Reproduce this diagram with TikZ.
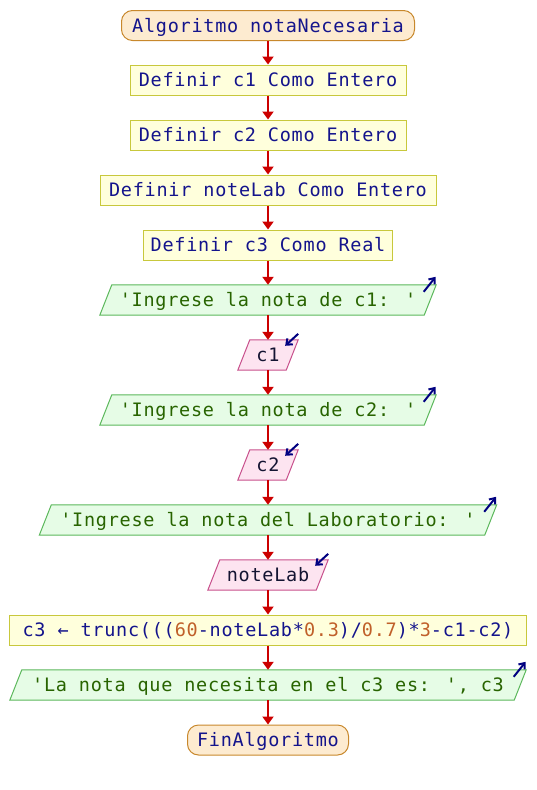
\documentclass[tikz,border=0pt]{standalone}
\usepackage{fontspec}
\newfontfamily\codefont{DejaVu Sans Mono}[LetterSpace=4,Ligatures=TeXOff]
\usetikzlibrary{arrows.meta,backgrounds}

\definecolor{termfill}{RGB}{253,235,208}
\definecolor{termline}{RGB}{200,136,44}
\definecolor{procfill}{RGB}{255,255,220}
\definecolor{procline}{RGB}{200,200,60}
\definecolor{outfill}{RGB}{230,252,230}
\definecolor{outline}{RGB}{92,184,92}
\definecolor{infill}{RGB}{253,228,240}
\definecolor{inline}{RGB}{200,80,140}
\definecolor{navytext}{RGB}{20,20,140}
\definecolor{strtext}{RGB}{40,100,0}
\definecolor{intext}{RGB}{20,20,50}
\definecolor{numtext}{RGB}{192,96,42}
\definecolor{flowred}{RGB}{204,0,0}
\definecolor{signavy}{RGB}{0,0,128}

\tikzset{
  base/.style={inner sep=0pt, minimum height=30pt, text height=13.5pt, text depth=0pt},
  termbox/.style={base, draw=termline, fill=termfill, rounded corners=11pt, line width=1pt, text=navytext},
  procbox/.style={base, draw=procline, fill=procfill, line width=1pt, text=navytext},
  outbox/.style={base, text=strtext},
  inbox/.style={base, text=intext},
  flow/.style={draw=flowred, line width=2pt, -{Triangle[length=8pt,width=11pt]}},
  sig/.style={draw=signavy, line width=2pt, -{Straight Barb[length=5pt,width=8pt]}},
}
\newcommand{\num}[1]{\textcolor{numtext}{#1}}

\begin{document}
\begin{tikzpicture}[x=1pt,y=-1pt,font={\codefont\fontsize{18.5}{21}\selectfont}]
\useasboundingbox (0,0) rectangle (536,790);

% flowchart blocks
\node[termbox, minimum width=293pt] (start) at (268,25.5) {Algoritmo notaNecesaria};
\node[procbox, minimum width=276pt] (d1) at (268,80) {Definir c1 Como Entero};
\node[procbox, minimum width=276pt] (d2) at (268,135) {Definir c2 Como Entero};
\node[procbox, minimum width=336pt] (d3) at (268,190) {Definir noteLab Como Entero};
\node[procbox, minimum width=249pt] (d4) at (268,245) {Definir c3 Como Real};
\node[outbox, minimum width=324pt] (o1) at (268,300) {'Ingrese la nota de c1: '};
\node[inbox, minimum width=48pt] (i1) at (268,355) {c1};
\node[outbox, minimum width=324pt] (o2) at (268,410) {'Ingrese la nota de c2: '};
\node[inbox, minimum width=48pt] (i2) at (268,465) {c2};
\node[outbox, minimum width=445pt] (o3) at (268,520) {'Ingrese la nota del Laboratorio: '};
\node[inbox, minimum width=108pt] (i3) at (268,575) {noteLab};
\node[procbox, minimum width=517pt] (calc) at (268,630)
  {c3 ← trunc(((\num{60}-noteLab*\num{0.3})/\num{0.7})*\num{3}-c1-c2)};
\node[outbox, minimum width=504pt] (o4) at (268,685) {'La nota que necesita en el c3 es: ', c3};
\node[termbox, minimum width=161pt] (stop) at (268,740) {FinAlgoritmo};

% parallelogram bodies for input/output blocks
\begin{scope}[on background layer]
  \foreach \n/\f/\l in {o1/outfill/outline, o2/outfill/outline, o3/outfill/outline, o4/outfill/outline,
                        i1/infill/inline, i2/infill/inline, i3/infill/inline}
    \filldraw[fill=\f, draw=\l, line width=1pt]
      ([xshift=6pt]\n.north west) -- ([xshift=6pt]\n.north east) --
      ([xshift=-6pt]\n.south east) -- ([xshift=-6pt]\n.south west) -- cycle;
\end{scope}

% output / input markers
\foreach \n in {o1,o2,o3,o4}
  \draw[sig] ([xshift=-6.5pt,yshift=-7pt]\n.north east) -- ++(12,-15);
\foreach \n in {i1,i2,i3}
  \draw[sig] ([xshift=6pt,yshift=6pt]\n.north east) -- ++(-13,12);

% control flow
\foreach \a/\b in {start/d1, d1/d2, d2/d3, d3/d4, d4/o1, o1/i1, i1/o2, o2/i2,
                   i2/o3, o3/i3, i3/calc, calc/o4, o4/stop}
  \draw[flow] (\a) -- (\b);
\end{tikzpicture}
\end{document}
